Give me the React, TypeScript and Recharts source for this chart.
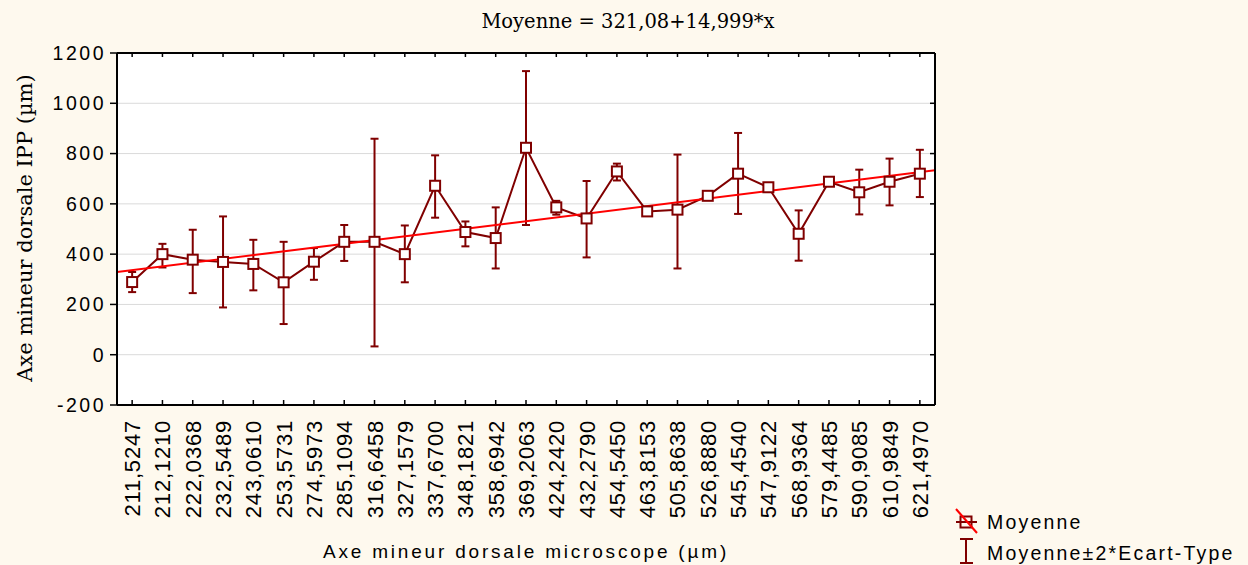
import { ComposedChart, Line, XAxis, YAxis, CartesianGrid, ErrorBar, Legend } from 'recharts';

const CATEGORIES = [
  '211,5247', '212,1210', '222,0368', '232,5489', '243,0610', '253,5731', '274,5973',
  '285,1094', '316,6458', '327,1579', '337,6700', '348,1821', '358,6942', '369,2063',
  '424,2420', '432,2790', '454,5450', '463,8153', '505,8638', '526,8880', '545,4540',
  '547,9122', '568,9364', '579,4485', '590,9085', '610,9849', '621,4970',
];

// Moyenne (µm)
const MEANS = [289, 400, 378, 369, 361, 288, 370, 449, 449, 400, 672, 488, 464, 823, 586, 542, 729, 570, 577, 632, 720, 666, 481, 688, 646, 688, 720];
// Moyenne - 2*Ecart-Type
const LOWS = [249, 347, 245, 188, 256, 122, 298, 373, 33, 288, 545, 431, 343, 516, 557, 387, 693, 562, 343, 624, 560, 656, 374, 678, 558, 594, 627];
// Moyenne + 2*Ecart-Type
const HIGHS = [329, 441, 497, 550, 457, 449, 424, 516, 859, 514, 793, 530, 586, 1128, 612, 691, 760, 578, 796, 640, 882, 676, 574, 700, 736, 780, 815];

const Y_TICKS = [-200, 0, 200, 400, 600, 800, 1000, 1200];

// regression from the title: Moyenne = 321,08+14,999*x
const INTERCEPT = 321.08;
const SLOPE = 14.999;

const DARK_RED = '#800000';
const BG = '#FEF9EE';
const SANS = '"Liberation Sans", Arial, sans-serif';
const SERIF = '"DejaVu Serif", serif';

const X_TICKS = CATEGORIES.map((_, i) => i + 1);
const X_DOMAIN = [0.5, CATEGORIES.length + 0.5];

const data = CATEGORIES.map((label, i) => ({
  x: i + 1,
  label,
  mean: MEANS[i],
  err: [MEANS[i] - LOWS[i], HIGHS[i] - MEANS[i]],
}));

const trendData = X_DOMAIN.map((x) => ({ x, trend: INTERCEPT + SLOPE * x }));

const SquareDot = (props: any) => {
  const { cx, cy } = props;
  if (cx == null || cy == null) return null;
  return <rect x={cx - 5} y={cy - 5} width={10} height={10} fill="#fff" stroke={DARK_RED} strokeWidth={2} />;
};

const XTick = (props: any) => {
  const { x, y, payload } = props;
  return (
    <text
      transform={`translate(${x + 8},${y}) rotate(-90)`}
      textAnchor="end"
      fontFamily={SANS}
      fontSize={22}
      letterSpacing={0.8}
      fill="#000"
    >
      {CATEGORIES[payload.value - 1]}
    </text>
  );
};

const NoTick = () => <g />;

const renderLegend = () => (
  <svg width={298} height={65}>
    <line x1={6} y1={22} x2={27} y2={22} stroke={DARK_RED} strokeWidth={2} />
    <rect x={10.5} y={16.5} width={11} height={11} fill="none" stroke={DARK_RED} strokeWidth={2} />
    <line x1={6} y1={9} x2={27} y2={33} stroke="#FF0000" strokeWidth={2} />
    <text x={37} y={29} fontFamily={SANS} fontSize={19.5} letterSpacing={2.2} fill="#000">Moyenne</text>
    <line x1={16} y1={39} x2={16} y2={63} stroke={DARK_RED} strokeWidth={2} />
    <line x1={10} y1={39} x2={23} y2={39} stroke={DARK_RED} strokeWidth={2} />
    <line x1={10} y1={63} x2={23} y2={63} stroke={DARK_RED} strokeWidth={2} />
    <text x={37} y={60} fontFamily={SANS} fontSize={19.5} letterSpacing={2.2} fill="#000">Moyenne±2*Ecart-Type</text>
  </svg>
);

const App = () => {
  return (
    <div style={{ position: 'absolute', left: 0, top: 0, width: 1248, height: 565, background: BG }}>
      <ComposedChart
        width={1248}
        height={565}
        data={data}
        margin={{ top: 52, right: 312, bottom: 50, left: 57 }}
      >
        <CartesianGrid vertical={false} stroke="#DADADA" fill="#FFFFFF" fillOpacity={1} />
        <XAxis
          dataKey="x"
          type="number"
          domain={X_DOMAIN}
          ticks={X_TICKS}
          allowDataOverflow
          height={110}
          tickSize={-5}
          tickMargin={20}
          tick={XTick}
          interval={0}
          axisLine={{ stroke: '#000', strokeWidth: 2 }}
          tickLine={{ stroke: '#000', strokeWidth: 1.5 }}
        />
        <XAxis
          xAxisId="t"
          dataKey="x"
          orientation="top"
          type="number"
          domain={X_DOMAIN}
          ticks={X_TICKS}
          allowDataOverflow
          height={1}
          tickSize={-4}
          tick={NoTick}
          interval={0}
          axisLine={{ stroke: '#000', strokeWidth: 2 }}
          tickLine={{ stroke: '#000', strokeWidth: 1.5 }}
        />
        <YAxis
          type="number"
          domain={[-200, 1200]}
          ticks={Y_TICKS}
          allowDataOverflow
          width={60}
          tickSize={7}
          tickMargin={4}
          interval={0}
          tick={{ fontFamily: SANS, fontSize: 19.5, fill: '#000', letterSpacing: 2.5 }}
          axisLine={{ stroke: '#000', strokeWidth: 2 }}
          tickLine={{ stroke: '#000', strokeWidth: 1.5 }}
        />
        <YAxis
          yAxisId="r"
          dataKey="mean"
          orientation="right"
          type="number"
          domain={[-200, 1200]}
          ticks={Y_TICKS}
          allowDataOverflow
          width={1}
          tickSize={-5}
          tick={NoTick}
          interval={0}
          axisLine={{ stroke: '#000', strokeWidth: 2 }}
          tickLine={{ stroke: '#000', strokeWidth: 1.5 }}
        />
        <Line
          type="linear"
          dataKey="mean"
          stroke={DARK_RED}
          strokeWidth={2}
          dot={SquareDot}
          activeDot={false}
          isAnimationActive={false}
        >
          <ErrorBar dataKey="err" direction="y" width={4} stroke={DARK_RED} strokeWidth={2} isAnimationActive={false} />
        </Line>
        <Line
          type="linear"
          data={trendData}
          dataKey="trend"
          stroke="#FF0000"
          strokeWidth={2}
          dot={false}
          activeDot={false}
          isAnimationActive={false}
        />
        <Legend
          layout="vertical"
          align="center"
          verticalAlign="middle"
          content={renderLegend}
          wrapperStyle={{ left: 950, top: 500, width: 298, height: 65 }}
        />
        <text x={628} y={28} textAnchor="middle" fontFamily={SERIF} fontSize={19.5} fill="#000">
          Moyenne = 321,08+14,999*x
        </text>
        <text transform="translate(32,228) rotate(-90)" textAnchor="middle" fontFamily={SERIF} fontSize={21} fill="#000">
          Axe mineur dorsale IPP (µm)
        </text>
        <text x={526} y={558} textAnchor="middle" fontFamily={SANS} fontSize={19} letterSpacing={2.8} fill="#000">
          Axe mineur dorsale microscope (µm)
        </text>
      </ComposedChart>
    </div>
  );
};

export default App;
